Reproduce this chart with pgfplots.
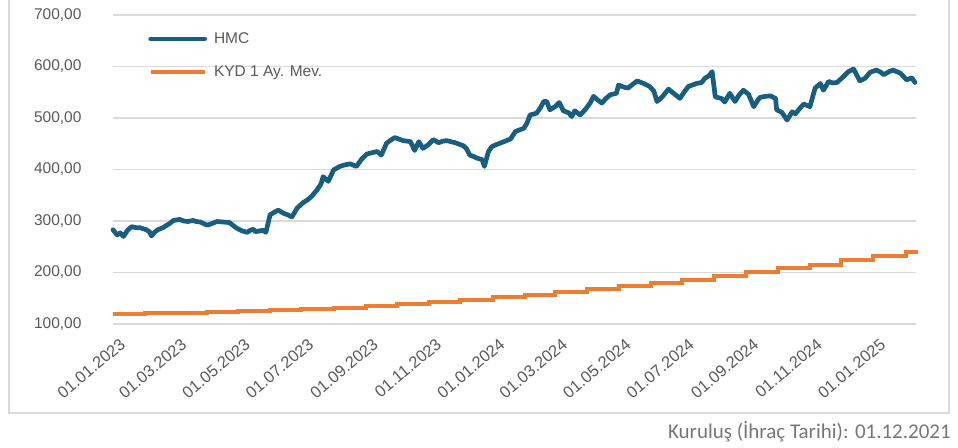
\documentclass[border=0pt]{standalone}
\usepackage{fontspec}
\usepackage{pgfplots}
\pgfplotsset{compat=1.18}
\setmainfont{Liberation Sans}
\newfontfamily\calibri{Carlito}
\definecolor{hmcblue}{RGB}{23,94,128}
\definecolor{kydorange}{RGB}{237,125,49}
\definecolor{gridgray}{RGB}{217,217,217}
\definecolor{labelgray}{RGB}{89,89,89}
\definecolor{notegray}{RGB}{118,118,118}
\begin{document}
\begin{tikzpicture}
\path[use as bounding box] (0pt,0pt) rectangle (958pt,447pt);
\draw[gridgray, line width=1.5pt] (9pt,447pt) -- (9pt,34pt) -- (949pt,34pt) -- (949pt,447pt);
\begin{axis}[
  at={(113pt,123pt)}, anchor=south west,
  scale only axis, width=803pt, height=309pt,
  xmin=0, xmax=772, ymin=100, ymax=700,
  ytick={100,200,300,400,500,600,700},
  xtick={0,59,120,181,243,304,365,425,486,547,609,670,731},
  xticklabels={01.01.2023,01.03.2023,01.05.2023,01.07.2023,01.09.2023,01.11.2023,01.01.2024,01.03.2024,01.05.2024,01.07.2024,01.09.2024,01.11.2024,01.01.2025},
  ymajorgrids, major grid style={gridgray, line width=1.3pt},
  axis line style={draw=none}, major tick length=0pt,
  clip=false,
  /pgf/number format/assume math mode=true,
  y tick label style={/pgf/number format/fixed, /pgf/number format/fixed zerofill, /pgf/number format/precision=2, /pgf/number format/use comma, /pgf/number format/1000 sep={}},
  yticklabel style={anchor=east, xshift=-28pt, font=\fontsize{15.5}{18}\selectfont, text=labelgray},
  xticklabel style={rotate=40, anchor=east, inner sep=0pt, xshift=-4pt, yshift=-20pt, font=\fontsize{16.4}{19}\selectfont, text=labelgray},
  legend style={draw=none, fill=none, at={(axis description cs:0.040,0.956)}, anchor=north west, font=\fontsize{15.5}{18}\selectfont, text=labelgray, row sep=17pt, /tikz/every odd column/.style={column sep=5pt}},
  legend cell align=left,
  legend image code/.code={\draw[#1] (0pt,0pt) -- (54pt,0pt);},
]
\addplot[hmcblue, line width=4.7pt, line join=round, line cap=round] coordinates {
(0,283) (4,273) (7,277) (10,270) (14,282) (18,289) (22,287) (26,287) (32,283) (35,279) (37,271) (40,278) (43,283) (48,287) (52,292) (55,296) (58,301) (64,303) (68,300) (72,299) (77,301) (80,299) (84,298) (88,294) (91,292) (95,295) (100,299) (106,298) (112,297) (115,292) (119,286) (124,281) (129,278) (132,282) (135,284) (137,279) (139,280) (144,282) (147,278) (151,312) (155,317) (159,321) (164,315) (168,312) (172,308) (177,325) (183,336) (187,341) (191,348) (196,360) (200,372) (202,386) (207,377) (210,390) (212,399) (218,406) (223,409) (228,411) (234,406) (239,420) (244,430) (250,433) (254,435) (258,428) (263,451) (267,457) (271,462) (275,459) (279,456) (283,455) (286,454) (290,437) (294,454) (298,441) (303,448) (308,458) (313,452) (317,455) (321,456) (325,454) (329,452) (333,449) (337,446) (340,440) (343,428) (347,425) (350,422) (355,419) (357,406) (361,435) (364,444) (368,448) (372,451) (377,455) (382,459) (387,474) (391,477) (395,480) (398,490) (401,506) (407,509) (411,520) (414,532) (417,532) (420,516) (425,522) (429,530) (433,514) (438,510) (441,503) (444,514) (449,506) (452,512) (455,519) (459,530) (462,542) (466,535) (470,529) (474,538) (478,545) (484,548) (486,564) (491,560) (495,558) (500,566) (504,572) (510,567) (516,561) (520,552) (523,532) (528,541) (534,556) (539,548) (545,538) (549,550) (553,561) (561,567) (566,569) (569,577) (573,582) (576,590) (579,541) (585,538) (588,531) (593,548) (598,532) (602,545) (606,554) (611,546) (616,522) (620,535) (622,540) (627,542) (632,543) (637,538) (638,516) (643,511) (648,496) (653,512) (656,508) (660,518) (664,527) (670,522) (675,558) (680,567) (683,554) (688,571) (692,568) (696,569) (702,580) (707,590) (712,595) (718,572) (723,577) (728,589) (734,593) (738,589) (741,584) (746,590) (750,593) (757,587) (763,574) (768,578) (771,569)
};
\addlegendentry{HMC}
\addplot[kydorange, line width=4pt, const plot] coordinates {
(0,119) (31,120.4) (59,122) (90,123.6) (120,125.2) (151,127) (181,129.2) (212,131.8) (243,134.8) (273,138.3) (304,142.2) (334,146.6) (365,151.5) (396,156.5) (425,161.8) (456,167.5) (486,173.5) (517,179.8) (547,186.3) (578,193.2) (609,200.3) (639,207.8) (670,215.5) (700,223.5) (731,231.8) (762,240.5) (772,244)
};
\addlegendentry{KYD 1 Ay. Mev.}
\end{axis}
\node[anchor=base east, font=\calibri\fontsize{21}{25}\selectfont, text=notegray, inner sep=0pt] at (951pt,9pt) {Kuruluş (İhraç Tarihi): 01.12.2021};
\end{tikzpicture}
\end{document}
